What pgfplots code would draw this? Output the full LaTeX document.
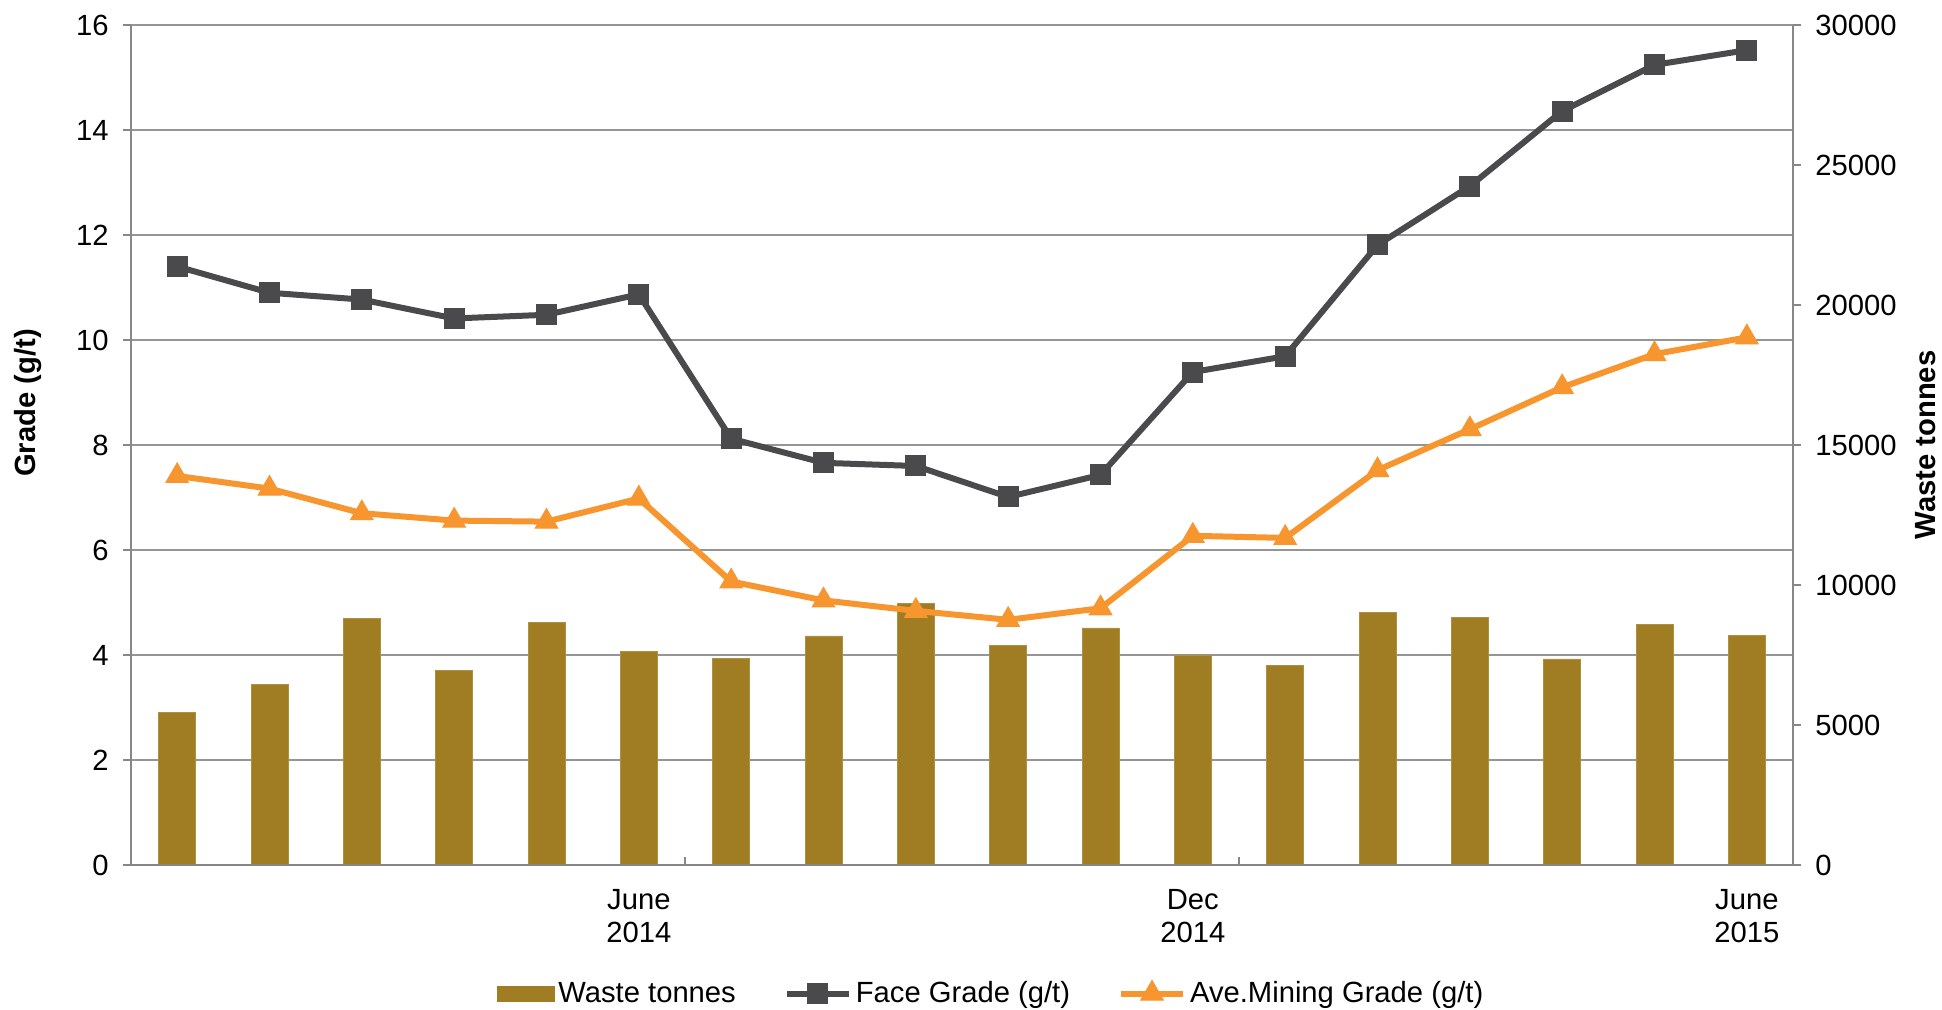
\documentclass[border=0pt]{standalone}
\usepackage{fontspec}
\setmainfont{Liberation Sans}
\usepackage{pgfplots}
\pgfplotsset{compat=1.18}

\definecolor{wastecol}{HTML}{A07C22}
\definecolor{facecol}{HTML}{4A4A4C}
\definecolor{avecol}{HTML}{F7952E}
\definecolor{gridcol}{HTML}{959595}
\definecolor{axiscol}{HTML}{878787}
\newcommand\chartfont{\fontsize{14.6}{16.5}\selectfont}

\pgfplotsset{
  base/.style={
    at={(65.5pt,72.5pt)}, anchor=south west,
    scale only axis, width=831pt, height=420pt,
    xmin=-0.5, xmax=17.5,
    axis line style={axiscol, line width=1.2pt},
    tick label style={font=\chartfont},
    label style={font=\chartfont\bfseries},
    major tick length=4pt, minor tick length=4pt,
  },
  lineleg/.style={legend image code/.code={%
    \draw[mark repeat=2,mark phase=2,##1] plot coordinates {(0pt,0pt) (15.5pt,0pt) (31pt,0pt)};}},
  barleg/.style={legend image code/.code={%
    \fill[wastecol] (0pt,-3.75pt) rectangle (28.5pt,3.75pt);}},
}

\begin{document}
\begin{tikzpicture}
\useasboundingbox (0,0) rectangle (971pt,505pt);

% left axis: grade scale and grid
\begin{axis}[base,
    ymin=0, ymax=16, ytick={0,2,...,16},
    axis y line*=left, axis x line=none,
    tick align=outside,
    ytick style={axiscol, line width=0.9pt},
    ymajorgrids, major grid style={gridcol, line width=0.9pt},
    yticklabel style={/pgf/number format/assume math mode=true, xshift=-3.7pt},
    ylabel={Grade (g/t)},
    ylabel style={at={(axis description cs:-0.062,0.55)}, anchor=center},
]
\addplot[draw=none] coordinates {(0,0)};
\end{axis}

% right axis: waste tonnes bars
\begin{axis}[base,
    ymin=0, ymax=30000, ytick={0,5000,...,30000},
    scaled y ticks=false,
    axis y line*=right, axis x line=none,
    tick align=outside,
    ytick style={axiscol, line width=0.9pt},
    yticklabel style={/pgf/number format/.cd, 1000 sep={}, assume math mode=true, /tikz/xshift=3.7pt},
    ylabel={Waste tonnes},
    ylabel style={at={(axis description cs:1.08,0.5)}, anchor=center},
]
\addplot[ybar, bar width=0.4, fill=wastecol, draw=wastecol!85!white, line width=0.4pt] coordinates {
  (0,5450) (1,6440) (2,8790) (3,6940) (4,8650) (5,7615)
  (6,7390) (7,8180) (8,9335) (9,7835) (10,8465) (11,7485)
  (12,7135) (13,9030) (14,8855) (15,7360) (16,8600) (17,8200)
};
\end{axis}

% grade lines, bottom axis, legend
\begin{axis}[base,
    ymin=0, ymax=16,
    axis x line*=bottom, axis y line=none,
    xtick={5,11,17},
    xticklabels={{June\\2014},{Dec\\2014},{June\\2015}},
    xticklabel style={align=center, yshift=-8.5pt},
    every major x tick/.append style={draw=none},
    minor xtick={5.5,11.5},
    every minor x tick/.append style={axiscol, line width=0.9pt},
    tick align=inside,
    legend style={at={(0.518,-0.153)}, anchor=center, draw=none, fill=none,
      font=\chartfont, legend columns=-1,
      /tikz/every even column/.append style={column sep=22pt}},
    legend cell align=left,
]
\addlegendimage{barleg}
\addlegendentry{Waste tonnes}
\addplot[facecol, line width=3pt, mark=square*, mark size=5pt,
  mark options={solid, fill=facecol, line width=0.5pt}, lineleg]
coordinates {
  (0,11.40) (1,10.90) (2,10.77) (3,10.41) (4,10.48) (5,10.87)
  (6,8.12) (7,7.66) (8,7.60) (9,7.01) (10,7.43) (11,9.39)
  (12,9.69) (13,11.81) (14,12.93) (15,14.36) (16,15.24) (17,15.52)
};
\addlegendentry{Face Grade (g/t)}
\addplot[avecol, line width=3pt, mark=triangle*, mark size=6.5pt,
  mark options={solid, fill=avecol, line width=0.5pt}, lineleg]
coordinates {
  (0,7.41) (1,7.17) (2,6.70) (3,6.56) (4,6.54) (5,6.98)
  (6,5.40) (7,5.04) (8,4.84) (9,4.67) (10,4.89) (11,6.27)
  (12,6.23) (13,7.52) (14,8.30) (15,9.10) (16,9.73) (17,10.05)
};
\addlegendentry{Ave.Mining Grade (g/t)}
\end{axis}
\end{tikzpicture}
\end{document}
